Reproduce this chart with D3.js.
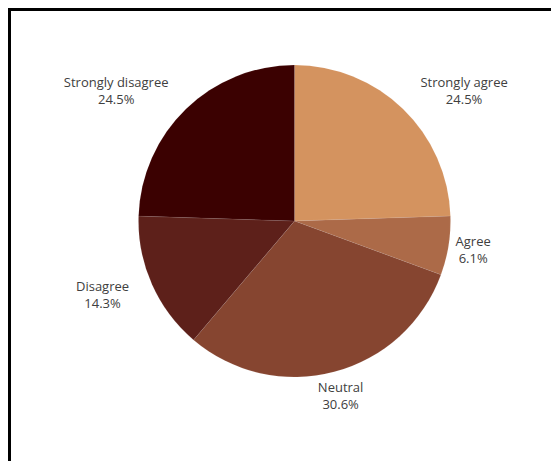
<!DOCTYPE html>
<html>
<head>
<meta charset="utf-8">
<script src="https://cdn.jsdelivr.net/npm/d3@7"></script>
<style>
  html, body { margin: 0; padding: 0; background: #fff; }
  svg { display: block; }
  text { font-family: "Open Sans", "Noto Sans", sans-serif; }
</style>
</head>
<body>
<script>
// Survey response shares (percent)
const categories = ["Strongly agree", "Agree", "Neutral", "Disagree", "Strongly disagree"];
const shares = [24.5, 6.1, 30.6, 14.3, 24.5];
const colors = ["#d4935f", "#ac6a48", "#864530", "#5d201a", "#3b0101"];

// Which side of its anchor point each label box sits on (-1 left, 0 centred, 1 right)
const labelSide = [1, 0, 0, -1, -1];

const W = 551, H = 461;
const cx = 294.5, cy = 221, R = 156, labelR = 181;
const lineH = 17;

const svg = d3.select("body").append("svg")
  .attr("width", W).attr("height", H);

svg.append("rect").attr("width", W).attr("height", H).attr("fill", "#fff");

// Frame: only the top and left edges fall inside the view
svg.append("path")
  .attr("d", `M9.5,${H + 5}V9.5H${W + 5}`)
  .attr("fill", "none")
  .attr("stroke", "#000")
  .attr("stroke-width", 3);

const data = categories.map((c, i) => ({ name: c, value: shares[i], color: colors[i], side: labelSide[i] }));

const pie = d3.pie().sort(null).value(d => d.value).startAngle(0).endAngle(2 * Math.PI);
const arcs = pie(data);
const arc = d3.arc().innerRadius(0).outerRadius(R);

const g = svg.append("g").attr("transform", `translate(${cx},${cy})`);

g.selectAll("path.slice")
  .data(arcs)
  .join("path")
  .attr("class", "slice")
  .attr("d", arc)
  .attr("fill", d => d.data.color)
  .attr("stroke", "#fff")
  .attr("stroke-opacity", 0.15)
  .attr("stroke-width", 0.5);

// Two-line labels (name + percent) around the pie
const labels = g.selectAll("g.label")
  .data(arcs)
  .join("g")
  .attr("class", "label");

labels.each(function (d) {
  const sel = d3.select(this);
  const mid = (d.startAngle + d.endAngle) / 2;
  const ax = labelR * Math.sin(mid);
  const ay = -labelR * Math.cos(mid);
  const t1 = sel.append("text").text(d.data.name);
  const t2 = sel.append("text").text(d.data.value.toFixed(1) + "%");
  sel.selectAll("text")
    .attr("text-anchor", "middle")
    .attr("font-size", 13)
    .attr("fill", "#404040");
  const w = Math.max(t1.node().getComputedTextLength(), t2.node().getComputedTextLength());
  const x = ax + d.data.side * w / 2;
  const b1 = ay - lineH / 2 + 4.65;
  t1.attr("x", x).attr("y", b1);
  t2.attr("x", x).attr("y", b1 + lineH);
});
</script>
</body>
</html>
